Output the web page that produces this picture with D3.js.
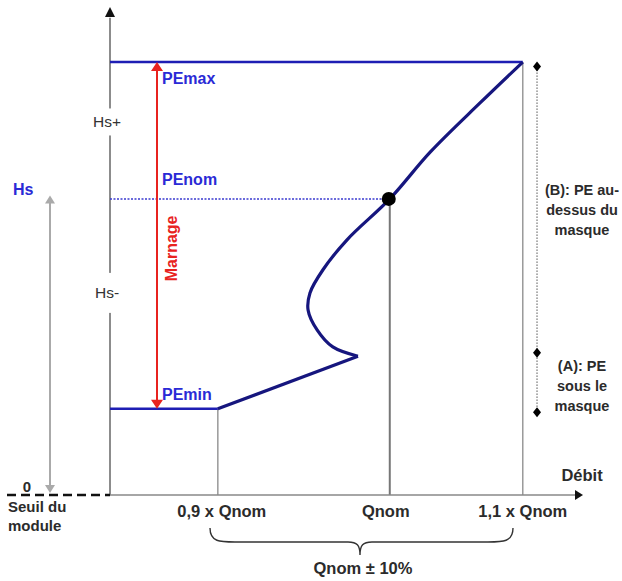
<!DOCTYPE html>
<html>
<head>
<meta charset="utf-8">
<script src="https://cdn.jsdelivr.net/npm/d3@7"></script>
<style>
  body { margin: 0; background: #fff; }
  text { font-family: "Liberation Sans", Arial, sans-serif; }
</style>
</head>
<body>
<div class="chart"></div>
<script>
// diagram units: 0..100 on both axes (schematic, not to scale)
var levels = [
  { name: "PEmax", h: 88.9 },
  { name: "PEnom", h: 60.8 },
  { name: "PEmin", h: 17.7 }
];
var qTicks = [
  { label: "0,9 x Qnom", q: 22.7 },
  { label: "Qnom", q: 58.9 },
  { label: "1,1 x Qnom", q: 86.9 }
];
// pump curve: straight part from PEmin, then the S-shaped part up to PEmax
var curveLow = [[22.7, 17.7], [52.2, 28.5]];
var curveHigh = [[52.2, 28.5], [46.9, 30.4], [43.6, 33.9], [41.7, 38.0], [42.1, 41.5],
                 [44.8, 46.2], [49.9, 52.4], [58.9, 60.8], [67.4, 70.4], [77.9, 80.5], [86.9, 88.9]];
var maskMarks = [88.0, 29.2, 17.0];
var maskLabels = [
  { lines: ["(B): PE au-", "dessus du", "masque"], h: 61.5 },
  { lines: ["(A): PE", "sous le", "masque"], h: 25.5 }
];

var svgWidth = 622, svgHeight = 581;
var blue = "#2a2ad6", navy = "#16167e", red = "#e8231f", dark = "#2b2b2b";

var svg = d3.select(".chart").append("svg")
  .attr("width", svgWidth)
  .attr("height", svgHeight);

var x = d3.scaleLinear().domain([0, 100]).range([110, 585]);
var y = d3.scaleLinear().domain([0, 100]).range([495, 8]);

var pemax = levels[0].h, penom = levels[1].h, pemin = levels[2].h;

// gray vertical guides
svg.selectAll(".guide")
  .data(qTicks)
  .enter().append("line")
  .attr("x1", d => x(d.q)).attr("x2", d => x(d.q))
  .attr("y1", y(0))
  .attr("y2", (d, i) => y([pemin, penom, pemax][i]))
  .attr("stroke", (d, i) => i == 1 ? "#777" : "#999")
  .attr("stroke-width", (d, i) => i == 1 ? 2 : 1.5);

// axes
svg.append("line")
  .attr("x1", x(0)).attr("x2", x(0)).attr("y1", y(0)).attr("y2", y(98))
  .attr("stroke", "#666").attr("stroke-width", 1.5);
svg.append("path")
  .attr("d", `M${x(0)},${y(100) - 1} L${x(0) - 5},${y(100) + 9} L${x(0) + 5},${y(100) + 9} Z`)
  .attr("fill", "#111");
svg.append("line")
  .attr("x1", x(0)).attr("x2", x(99)).attr("y1", y(0)).attr("y2", y(0))
  .attr("stroke", "#888").attr("stroke-width", 1.5);
svg.append("path")
  .attr("d", `M${x(100) - 2},${y(0)} L${x(100) - 10},${y(0) - 5} L${x(100) - 10},${y(0) + 5} Z`)
  .attr("fill", "#111");
svg.append("line")
  .attr("x1", 7).attr("x2", x(0)).attr("y1", y(0)).attr("y2", y(0))
  .attr("stroke", "#111").attr("stroke-width", 2.5)
  .attr("stroke-dasharray", "9,5");

// Hs gray double arrow
var hsX = 50;
svg.append("line")
  .attr("x1", hsX).attr("x2", hsX).attr("y1", y(0) - 6).attr("y2", y(61.5) + 6)
  .attr("stroke", "#aaa").attr("stroke-width", 2);
svg.append("path")
  .attr("d", `M${hsX},${y(61.5)} l-5,8 l10,0 Z M${hsX},${y(0) - 2} l-5,-8 l10,0 Z`)
  .attr("fill", "#aaa");
svg.append("text").attr("x", 13).attr("y", 195)
  .attr("fill", blue).attr("font-weight", "bold").attr("font-size", 16).text("Hs");

// Hs+ / Hs- labels breaking the axis
[{ t: "Hs+", h: 76.6, g: 27 }, { t: "Hs-", h: 41.5, g: 40 }].forEach(function (d) {
  svg.append("rect")
    .attr("x", x(0) - 4).attr("width", 8)
    .attr("y", y(d.h) - d.g / 2).attr("height", d.g)
    .attr("fill", "#fff");
  svg.append("text")
    .attr("x", x(0) - 3).attr("y", y(d.h) + 5)
    .attr("text-anchor", "middle")
    .attr("font-size", 15.5).attr("fill", "#333")
    .text(d.t);
});

// level lines
svg.append("line")
  .attr("x1", x(0)).attr("x2", x(qTicks[2].q)).attr("y1", y(pemax)).attr("y2", y(pemax))
  .attr("stroke", "#1e1eb4").attr("stroke-width", 2.5);
svg.append("line")
  .attr("x1", x(0)).attr("x2", x(qTicks[0].q)).attr("y1", y(pemin)).attr("y2", y(pemin))
  .attr("stroke", "#1e1eb4").attr("stroke-width", 2.5);
svg.append("line")
  .attr("x1", x(0)).attr("x2", x(qTicks[1].q)).attr("y1", y(penom)).attr("y2", y(penom))
  .attr("stroke", "#3a3ad0").attr("stroke-width", 1.5)
  .attr("stroke-dasharray", "2,1.5");

// level labels
svg.selectAll(".lvl")
  .data(levels)
  .enter().append("text")
  .attr("x", 162)
  .attr("y", d => y(d.h) + (d.name == "PEnom" ? -14 : d.name == "PEmax" ? 22 : -9))
  .attr("fill", blue).attr("font-weight", "bold").attr("font-size", 16)
  .text(d => d.name);

// Marnage arrow
var mx = 157;
svg.append("line")
  .attr("x1", mx).attr("x2", mx).attr("y1", y(pemax) + 8).attr("y2", y(pemin) - 8)
  .attr("stroke", red).attr("stroke-width", 2);
svg.append("path")
  .attr("d", `M${mx},${y(pemax)} l-6,9 l12,0 Z M${mx},${y(pemin)} l-6,-9 l12,0 Z`)
  .attr("fill", red);
svg.append("text")
  .attr("transform", `translate(177, ${(y(pemax) + y(pemin)) / 2 + 13}) rotate(-90)`)
  .attr("text-anchor", "middle")
  .attr("fill", red).attr("font-weight", "bold").attr("font-size", 16)
  .text("Marnage");

// pump curve
var line = d3.line().x(d => x(d[0])).y(d => y(d[1]));
svg.append("path")
  .attr("d", line(curveLow))
  .attr("fill", "none").attr("stroke", navy).attr("stroke-width", 3.2);
svg.append("path")
  .attr("d", line.curve(d3.curveCatmullRom)(curveHigh))
  .attr("fill", "none").attr("stroke", navy).attr("stroke-width", 3.2)
  .attr("stroke-linejoin", "round");

// nominal point
svg.append("circle")
  .attr("cx", x(qTicks[1].q) - 1).attr("cy", y(penom))
  .attr("r", 7).attr("fill", "#000");

// mask annotation on the right
var mX = x(89.9);
svg.append("line")
  .attr("x1", mX).attr("x2", mX).attr("y1", y(maskMarks[0])).attr("y2", y(maskMarks[2]))
  .attr("stroke", "#555").attr("stroke-width", 1)
  .attr("stroke-dasharray", "1.5,1.5");
svg.selectAll(".mark")
  .data(maskMarks)
  .enter().append("path")
  .attr("d", d => `M${mX},${y(d) - 5} l4,5 l-4,5 l-4,-5 Z`)
  .attr("fill", "#000");
maskLabels.forEach(function (m) {
  svg.append("text")
    .attr("text-anchor", "middle")
    .attr("font-weight", "bold").attr("font-size", 14.5).attr("fill", dark)
    .selectAll("tspan")
    .data(m.lines)
    .enter().append("tspan")
    .attr("x", 582)
    .attr("y", (d, i) => y(m.h) + i * 20)
    .text(d => d);
});

// x labels
svg.selectAll(".qlab")
  .data(qTicks)
  .enter().append("text")
  .attr("x", (d, i) => x(d.q) + (i == 0 ? 4 : i == 1 ? -4 : 0))
  .attr("y", 517)
  .attr("text-anchor", "middle")
  .attr("font-weight", "bold").attr("font-size", 16.5).attr("fill", dark)
  .text(d => d.label);
svg.append("text").attr("x", 582).attr("y", 481)
  .attr("text-anchor", "middle")
  .attr("font-weight", "bold").attr("font-size", 16.5).attr("fill", dark)
  .text("Débit");
svg.append("text").attr("x", 27).attr("y", 492)
  .attr("text-anchor", "middle")
  .attr("font-weight", "bold").attr("font-size", 15).attr("fill", dark)
  .text("0");
svg.append("text").attr("font-weight", "bold").attr("font-size", 15).attr("fill", dark)
  .selectAll("tspan").data(["Seuil du", "module"]).enter().append("tspan")
  .attr("x", 8).attr("y", (d, i) => 512 + i * 19).text(d => d);

// brace under the Qnom ± 10% range
var bL = 210, bR = 513, bM = 360, bTop = 528, bMid = 542, bTip = 555;
svg.append("path")
  .attr("d", `M${bL},${bTop} C${bL},${bMid} ${bL + 10},${bMid} ${bL + 25},${bMid}
              L${bM - 12},${bMid} C${bM - 3},${bMid} ${bM},${bMid + 3} ${bM},${bTip}
              C${bM},${bMid + 3} ${bM + 3},${bMid} ${bM + 12},${bMid}
              L${bR - 25},${bMid} C${bR - 10},${bMid} ${bR},${bMid} ${bR},${bTop}`)
  .attr("fill", "none").attr("stroke", "#333").attr("stroke-width", 1.4);
svg.append("text").attr("x", 363).attr("y", 574)
  .attr("text-anchor", "middle")
  .attr("font-weight", "bold").attr("font-size", 16.5).attr("fill", dark)
  .text("Qnom ± 10%");
</script>
</body>
</html>
